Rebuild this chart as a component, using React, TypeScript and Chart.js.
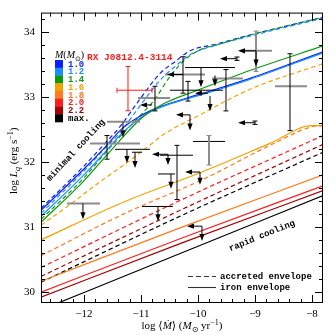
import React, { useEffect, useRef } from 'react';
import { Chart, registerables } from 'chart.js';

Chart.register(...registerables);

const X_MIN = -12.754;
const X_MAX = -7.807;
const Y_MIN = 29.833;
const Y_MAX = 34.3;

const xMajorTicks = [-12, -11, -10, -9, -8];
const yMajorTicks = [30, 31, 32, 33, 34];
const minorStep = 0.2;

const massLabels = ['1.0', '1.2', '1.4', '1.6', '1.8', '2.0', '2.2', 'max.'];
const massColors = ['#0a1eff', '#1a8cff', '#0c9a0c', '#f2a200', '#ff7a1c', '#ff1c1c', '#a80000', '#000000'];

// ---- iron envelope (solid) ----
const feHiX = [-12.754, -12.018, -11.632, -11.333, -11.018, -10.842, -10.579, -9.965, -9.088, -7.807];
const fe10Y = [31.258, 31.879, 32.227, 32.515, 32.705, 32.788, 32.879, 33.045, 33.288, 33.697];
const fe12Y = [31.167, 31.788, 32.152, 32.445, 32.675, 32.770, 32.870, 33.030, 33.273, 33.682];
const fe14Y = [31.076, 31.697, 32.076, 32.370, 32.655, 32.773, 32.909, 33.121, 33.409, 33.788];
const fe16X = [-12.754, -11.281, -9.930, -8.737, -8.0, -7.807];
const fe16Y = [30.803, 31.394, 31.848, 32.288, 32.561, 32.561];
const feLoX = [-12.754, -10.281, -7.807];
const fe18Y = [30.167, 31.0, 31.803];
const fe20Y = [30.0, 30.833, 31.636];
const fe22Y = [29.924, 30.758, 31.561];
const feMaxY = [29.727, 30.606, 31.485];

// ---- accreted envelope (dashed) ----
const acc10X = [-12.754, -12.018, -11.632, -11.368, -11.018, -10.667, -10.404, -10.140, -9.667, -9.088, -8.526, -7.807];
const acc10Y = [31.288, 31.924, 32.288, 32.545, 32.970, 33.364, 33.545, 33.712, 33.818, 33.955, 34.076, 34.227];
const acc12Y = [31.212, 31.848, 32.212, 32.455, 32.864, 33.258, 33.470, 33.652, 33.803, 33.939, 34.061, 34.212];
const acc14X = [-12.754, -12.018, -11.632, -11.368, -11.018, -10.754, -10.491, -10.228, -9.965, -9.614, -9.088, -8.526, -7.807];
const acc14Y = [31.121, 31.742, 32.136, 32.394, 32.712, 32.970, 33.318, 33.576, 33.727, 33.818, 33.955, 34.076, 34.227];
const acc16X = [-12.754, -12.246, -11.719, -11.281, -10.895, -10.579, -9.965, -9.088, -7.807];
const acc16Y = [31.030, 31.348, 31.697, 31.970, 32.227, 32.439, 32.727, 33.121, 33.515];
const acc18X = [-12.754, -11.281, -9.930, -8.737, -8.0, -7.807];
const acc18Y = [30.561, 31.212, 31.727, 32.258, 32.545, 32.561];
const accLoX = [-12.754, -10.281, -7.807];
const acc20Y = [30.379, 31.424, 32.409];
const acc22Y = [30.242, 31.273, 32.273];
const accMaxY = [30.152, 31.182, 32.152];

// ---- observations: error-bar crosses ----
const RED = '#ff1a1a';
const GRAY = '#8c8c8c';
const BLK = '#000000';
const errX = [-11.228, -11.316, -11.596, -11.246, -11.105, -10.754, -10.263, -9.947, -9.509, -10.175, -8.982, -9.316, -8.386, -9.0, -9.807, -12.018, -10.702, -10.368, -10.474];
const errY = [33.106, 32.621, 32.288, 32.197, 32.152, 32.985, 33.348, 33.455, 33.288, 33.106, 33.712, 33.591, 33.167, 32.606, 32.318, 31.364, 31.318, 32.106, 31.818];
const errXLo = [-11.421, -11.596, -11.895, -11.456, -11.158, -11.053, -10.579, -10.228, -9.754, -10.491, -9.263, null, -8.649, null, -10.088, -12.298, -10.982, -10.667, -10.702];
const errXHi = [-10.807, -11.018, -11.018, -10.842, -10.982, -10.491, -9.877, -9.351, -9.211, -9.561, -8.702, null, -8.088, null, -9.526, -11.719, -10.439, -10.088, -10.404];
const errYLo = [32.79, null, 32.045, null, null, 32.788, 33.061, null, 32.788, 32.939, 33.394, 33.565, 32.485, 32.58, 31.955, null, null, 31.424, null];
const errYHi = [33.47, null, 32.409, null, null, 33.167, 33.621, null, 33.424, 33.242, 34.015, 33.617, 33.667, 32.632, 32.409, null, null, 32.258, null];
const errHCol = [RED, GRAY, GRAY, BLK, BLK, GRAY, GRAY, BLK, GRAY, BLK, GRAY, BLK, GRAY, BLK, BLK, GRAY, BLK, BLK, BLK];
const errVCol = [RED, BLK, BLK, BLK, BLK, BLK, BLK, BLK, BLK, BLK, GRAY, BLK, BLK, BLK, GRAY, BLK, BLK, BLK, BLK];

// ---- observations: upper-limit arrows ----
const arrX = [-11.316, -11.246, -11.105, -10.807, -10.263, -9.947, -9.702, -9.825, -9.789, -10.140, -8.982, -9.316, -9.0, -12.018, -10.702, -9.965, -9.930, -10.526, -10.474];
const arrY = [32.621, 32.197, 32.152, 32.879, 33.348, 33.455, 33.333, 33.061, 33.015, 32.727, 33.712, 33.591, 32.606, 31.364, 31.318, 31.848, 31.015, 32.121, 31.818];
const arrLeftTo = [null, null, null, -11.018, -10.544, null, null, -10.053, null, -10.386, -9.298, -9.614, -9.298, null, null, -10.228, -10.193, -10.807, null];
const arrDownTo = [32.38, 31.985, 31.909, null, null, 33.152, 33.167, null, 32.788, 32.485, 33.47, null, null, 31.121, 31.091, 31.652, 30.788, 31.955, 31.591];

// ---- annotation positions (data units) ----
const rxLabelPos = [-11.947, 33.606];
const minimalPos = [-12.14, 32.182];
const rapidPos = [-8.877, 30.864];

const SERIF = '"Liberation Serif", "DejaVu Serif", serif';
const MONO = '"Liberation Mono", "DejaVu Sans Mono", monospace';

type Piece = { t: string; it?: boolean; sub?: boolean; sup?: boolean; fam?: string };

function drawRich(ctx: CanvasRenderingContext2D, pieces: Piece[], x: number, y: number, size: number, align: string, rot: number) {
  ctx.save();
  ctx.translate(x, y);
  ctx.rotate(rot);
  const fontFor = (p: Piece) => `${p.it ? 'italic ' : ''}${p.sub || p.sup ? Math.round(size * 0.72) : size}px ${p.fam || SERIF}`;
  const widths = pieces.map((p) => { ctx.font = fontFor(p); return ctx.measureText(p.t).width; });
  const total = widths.reduce((a, b) => a + b, 0);
  let cx = align === 'center' ? -total / 2 : 0;
  ctx.textAlign = 'left';
  ctx.textBaseline = 'alphabetic';
  ctx.fillStyle = '#000';
  pieces.forEach((p, i) => {
    ctx.font = fontFor(p);
    const dy = p.sub ? size * 0.3 : p.sup ? -size * 0.38 : 0;
    ctx.fillText(p.t, cx, dy);
    cx += widths[i];
  });
  ctx.restore();
}

function line(ctx: CanvasRenderingContext2D, x1: number, y1: number, x2: number, y2: number) {
  ctx.beginPath();
  ctx.moveTo(x1, y1);
  ctx.lineTo(x2, y2);
  ctx.stroke();
}

function arrowHead(ctx: CanvasRenderingContext2D, tx: number, ty: number, dir: string) {
  const L = 7, W = 2.6;
  ctx.beginPath();
  if (dir === 'down') {
    ctx.moveTo(tx, ty); ctx.lineTo(tx - W, ty - L); ctx.lineTo(tx + W, ty - L);
  } else {
    ctx.moveTo(tx, ty); ctx.lineTo(tx + L, ty - W); ctx.lineTo(tx + L, ty + W);
  }
  ctx.closePath();
  ctx.fill();
}

const decorPlugin = {
  id: 'decor',
  afterDatasetsDraw(chart: any) {
    const { ctx, chartArea: a } = chart;
    const sx = chart.scales.x, sy = chart.scales.y;
    const px = (v: number) => sx.getPixelForValue(v);
    const py = (v: number) => sy.getPixelForValue(v);
    ctx.save();
    ctx.beginPath();
    ctx.rect(a.left, a.top, a.right - a.left, a.bottom - a.top);
    ctx.clip();
    for (let i = 0; i < errX.length; i++) {
      const cx = px(errX[i]), cy = py(errY[i]);
      if (errXLo[i] != null) {
        ctx.strokeStyle = errHCol[i];
        ctx.lineWidth = errHCol[i] === GRAY ? 2 : 1;
        line(ctx, px(errXLo[i] as number), cy, px(errXHi[i] as number), cy);
        if (errHCol[i] === RED) {
          line(ctx, px(errXLo[i] as number), cy - 2.5, px(errXLo[i] as number), cy + 2.5);
          line(ctx, px(errXHi[i] as number), cy - 2.5, px(errXHi[i] as number), cy + 2.5);
        }
      }
      if (errYLo[i] != null) {
        ctx.strokeStyle = errVCol[i];
        ctx.lineWidth = errVCol[i] === GRAY ? 2 : 1;
        const y1 = py(errYLo[i] as number), y2 = py(errYHi[i] as number);
        line(ctx, cx, y1, cx, y2);
        ctx.lineWidth = 1;
        line(ctx, cx - 2.5, y1, cx + 2.5, y1);
        line(ctx, cx - 2.5, y2, cx + 2.5, y2);
      }
    }
    ctx.strokeStyle = BLK;
    ctx.fillStyle = BLK;
    ctx.lineWidth = 1;
    for (let i = 0; i < arrX.length; i++) {
      const cx = px(arrX[i]), cy = py(arrY[i]);
      if (arrLeftTo[i] != null) {
        const tx = px(arrLeftTo[i] as number);
        line(ctx, cx, cy, tx + 3, cy);
        arrowHead(ctx, tx, cy, 'left');
      }
      if (arrDownTo[i] != null) {
        const ty = py(arrDownTo[i] as number);
        line(ctx, cx, cy, cx, ty - 3);
        arrowHead(ctx, cx, ty, 'down');
      }
    }
    ctx.restore();
  },
  afterDraw(chart: any) {
    const { ctx, chartArea: a } = chart;
    const sx = chart.scales.x, sy = chart.scales.y;
    const px = (v: number) => sx.getPixelForValue(v);
    const py = (v: number) => sy.getPixelForValue(v);
    ctx.save();
    ctx.strokeStyle = '#000';
    ctx.lineWidth = 1;
    ctx.strokeRect(a.left + 0.5, a.top + 0.5, a.right - a.left - 1, a.bottom - a.top - 1);
    const maj = 8, mnr = 4;
    for (let v = Math.ceil(X_MIN / minorStep) * minorStep; v <= X_MAX + 1e-9; v += minorStep) {
      const isMaj = Math.abs(v - Math.round(v)) < 1e-6;
      const L = isMaj ? maj : mnr;
      const x = Math.round(px(v)) + 0.5;
      line(ctx, x, a.bottom, x, a.bottom - L);
      line(ctx, x, a.top, x, a.top + L);
    }
    for (let v = Math.ceil(Y_MIN / minorStep) * minorStep; v <= Y_MAX + 1e-9; v += minorStep) {
      const isMaj = Math.abs(v - Math.round(v)) < 1e-6;
      const L = isMaj ? maj : mnr;
      const y = Math.round(py(v)) + 0.5;
      line(ctx, a.left, y, a.left + L, y);
      line(ctx, a.right, y, a.right - L, y);
    }
    drawRich(ctx, [
      { t: 'log ' }, { t: '\u27e8', fam: '"DejaVu Serif", serif' }, { t: '\u1e40', it: true }, { t: '\u27e9', fam: '"DejaVu Serif", serif' }, { t: ' (' }, { t: 'M', it: true }, { t: '\u2299', sub: true, fam: '"DejaVu Sans", sans-serif' }, { t: ' yr' }, { t: '\u22121', sup: true }, { t: ')' },
    ], (a.left + a.right) / 2, 329, 11, 'center', 0);
    drawRich(ctx, [
      { t: 'log ' }, { t: 'L', it: true }, { t: 'q', it: true, sub: true }, { t: ' (erg s' }, { t: '\u22121', sup: true }, { t: ')' },
    ], 17, (a.top + a.bottom) / 2 + 3, 11, 'center', -Math.PI / 2);

    const bx = 55, by = 60, bh = 7.75, bw = 8;
    drawRich(ctx, [
      { t: 'M', it: true }, { t: '(' }, { t: 'M', it: true }, { t: '\u2299', sub: true, fam: '"DejaVu Sans", sans-serif' }, { t: ')' },
    ], bx, 58, 10, 'left', 0);
    ctx.font = `bold 9px ${MONO}`;
    ctx.textBaseline = 'middle';
    ctx.textAlign = 'left';
    for (let i = 0; i < massLabels.length; i++) {
      ctx.fillStyle = massColors[i];
      ctx.fillRect(bx, by + i * bh, bw, bh + 0.3);
      ctx.fillText(massLabels[i], bx + 13, by + i * bh + bh / 2 + 0.5);
    }

    ctx.strokeStyle = '#333';
    ctx.lineWidth = 1.1;
    ctx.setLineDash([5, 3]);
    line(ctx, 188, 276.5, 216, 276.5);
    ctx.setLineDash([]);
    line(ctx, 188, 287.5, 216, 287.5);
    ctx.fillStyle = '#000';
    ctx.font = `bold 9px ${MONO}`;
    ctx.fillText('accreted envelope', 220, 276.5);
    ctx.fillText('iron envelope', 220, 287.5);

    ctx.fillStyle = RED;
    ctx.font = `bold 9.5px ${MONO}`;
    ctx.textBaseline = 'middle';
    ctx.fillText('RX J0812.4-3114', px(rxLabelPos[0]), py(rxLabelPos[1]));

    ctx.fillStyle = '#000';
    ctx.font = `bold 9px ${MONO}`;
    ctx.textAlign = 'center';
    ctx.save();
    ctx.translate(px(minimalPos[0]), py(minimalPos[1]));
    ctx.rotate(-47 * Math.PI / 180);
    ctx.fillText('minimal cooling', 0, 0);
    ctx.restore();
    ctx.save();
    ctx.translate(px(rapidPos[0]), py(rapidPos[1]));
    ctx.rotate(-22 * Math.PI / 180);
    ctx.fillText('rapid cooling', 0, 0);
    ctx.restore();
    ctx.restore();
  },
};

function curve(xs: number[], ys: number[], colorIdx: number, dashed: boolean) {
  return {
    data: xs.map((x, i) => ({ x, y: ys[i] })),
    borderColor: massColors[colorIdx],
    borderWidth: 1.2,
    borderDash: dashed ? [4.5, 3] : [],
    pointRadius: 0,
    fill: false,
    showLine: true,
    cubicInterpolationMode: 'monotone',
  };
}

const fmt = (v: number) => String(v).replace('-', '\u2212');

export default function App() {
  const ref = useRef<HTMLCanvasElement>(null);
  useEffect(() => {
    if (!ref.current) return;
    const datasets = [
      curve(feLoX, feMaxY, 7, false),
      curve(feLoX, fe22Y, 6, false),
      curve(feLoX, fe20Y, 5, false),
      curve(feLoX, fe18Y, 4, false),
      curve(accLoX, accMaxY, 7, true),
      curve(accLoX, acc22Y, 6, true),
      curve(accLoX, acc20Y, 5, true),
      curve(acc18X, acc18Y, 4, true),
      curve(fe16X, fe16Y, 3, false),
      curve(acc16X, acc16Y, 3, true),
      curve(feHiX, fe14Y, 2, false),
      curve(feHiX, fe12Y, 1, false),
      curve(feHiX, fe10Y, 0, false),
      curve(acc14X, acc14Y, 2, true),
      curve(acc10X, acc12Y, 1, true),
      curve(acc10X, acc10Y, 0, true),
    ];
    const chart = new Chart(ref.current, {
      type: 'scatter',
      data: { datasets: datasets as any },
      options: {
        animation: false,
        responsive: true,
        maintainAspectRatio: false,
        layout: { padding: { top: 8, right: 12, left: 0, bottom: 0 } },
        plugins: { legend: { display: false }, tooltip: { enabled: false } },
        scales: {
          x: {
            type: 'linear', min: X_MIN, max: X_MAX,
            grid: { display: false, drawTicks: false },
            border: { display: false },
            ticks: { font: { family: SERIF, size: 11 }, color: '#000', padding: 5, autoSkip: false, maxRotation: 0, callback: (v: any) => fmt(v) },
            afterBuildTicks: (s: any) => { s.ticks = xMajorTicks.map((v) => ({ value: v })); },
            afterFit: (s: any) => { s.height = 32; },
          },
          y: {
            type: 'linear', min: Y_MIN, max: Y_MAX,
            grid: { display: false, drawTicks: false },
            border: { display: false },
            ticks: { font: { family: SERIF, size: 11 }, color: '#000', padding: 6, autoSkip: false, callback: (v: any) => fmt(v) },
            afterBuildTicks: (s: any) => { s.ticks = yMajorTicks.map((v) => ({ value: v })); },
            afterFit: (s: any) => { s.width = 41; },
          },
        },
      } as any,
      plugins: [decorPlugin],
    });
    return () => chart.destroy();
  }, []);
  return (
    <div style={{ position: 'fixed', left: 0, top: 0, width: 335, height: 335, background: '#fff' }}>
      <canvas ref={ref} />
    </div>
  );
}
